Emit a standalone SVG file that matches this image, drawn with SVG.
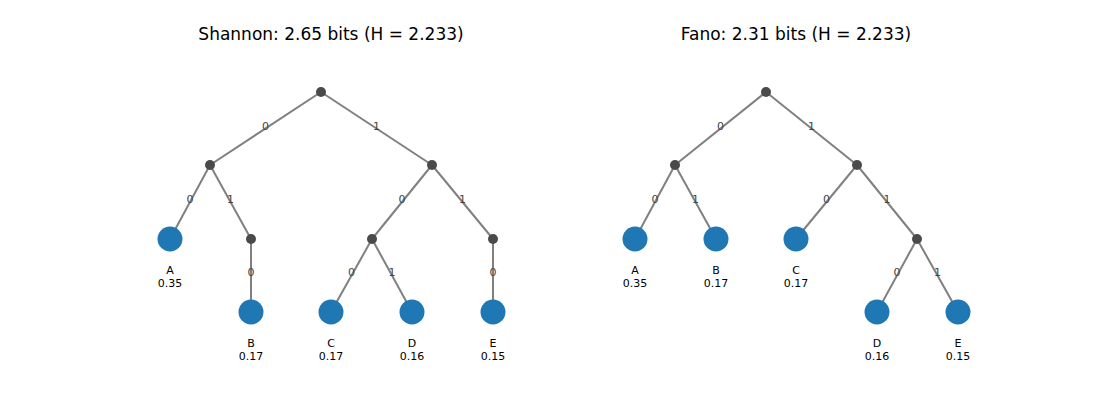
<svg xmlns="http://www.w3.org/2000/svg" width="1100" height="400" viewBox="0 0 1100 400">
<style>
text{font-family:"DejaVu Sans",sans-serif}
.title{font-size:17px;fill:#000;text-anchor:middle}
.lbl{font-size:11px;fill:#000;text-anchor:middle}
.el{font-size:11px;fill:#444;text-anchor:middle;dominant-baseline:central}
.e line{stroke:#808080;stroke-width:2}
.in{fill:#4a4a4a}
.leaf{fill:#1f77b4}
</style>
<rect width="1100" height="400" fill="#fff"/>
<text class="title" x="331" y="40">Shannon: 2.65 bits (H = 2.233)</text>
<text class="title" x="796" y="40">Fano: 2.31 bits (H = 2.233)</text>
<g id="connectors" class="e">
<line x1="321" y1="92" x2="210" y2="165"/>
<line x1="321" y1="92" x2="432" y2="165"/>
<line x1="210" y1="165" x2="170" y2="239"/>
<line x1="210" y1="165" x2="251" y2="239"/>
<line x1="432" y1="165" x2="372" y2="239"/>
<line x1="432" y1="165" x2="493" y2="239"/>
<line x1="251" y1="239" x2="251" y2="312"/>
<line x1="372" y1="239" x2="331" y2="312"/>
<line x1="372" y1="239" x2="412" y2="312"/>
<line x1="493" y1="239" x2="493" y2="312"/>
<line x1="766" y1="92" x2="675" y2="165"/>
<line x1="766" y1="92" x2="857" y2="165"/>
<line x1="675" y1="165" x2="635" y2="239"/>
<line x1="675" y1="165" x2="716" y2="239"/>
<line x1="857" y1="165" x2="796" y2="239"/>
<line x1="857" y1="165" x2="917" y2="239"/>
<line x1="917" y1="239" x2="877" y2="312"/>
<line x1="917" y1="239" x2="958" y2="312"/>
<text class="el" x="265.5" y="126">0</text>
<text class="el" x="376.5" y="126">1</text>
<text class="el" x="190" y="199">0</text>
<text class="el" x="230.5" y="199">1</text>
<text class="el" x="402" y="199">0</text>
<text class="el" x="462.5" y="199">1</text>
<text class="el" x="251" y="272">0</text>
<text class="el" x="351.5" y="272">0</text>
<text class="el" x="392" y="272">1</text>
<text class="el" x="493" y="272">0</text>
<text class="el" x="720.5" y="126">0</text>
<text class="el" x="811.5" y="126">1</text>
<text class="el" x="655" y="199">0</text>
<text class="el" x="695.5" y="199">1</text>
<text class="el" x="826.5" y="199">0</text>
<text class="el" x="887" y="199">1</text>
<text class="el" x="897" y="272">0</text>
<text class="el" x="937.5" y="272">1</text>
</g>
<g id="s-root"><circle class="in" cx="321" cy="92" r="5"/></g>
<g id="s-n0"><circle class="in" cx="210" cy="165" r="5"/></g>
<g id="s-n1"><circle class="in" cx="432" cy="165" r="5"/></g>
<g id="s-n01"><circle class="in" cx="251" cy="239" r="5"/></g>
<g id="s-n10"><circle class="in" cx="372" cy="239" r="5"/></g>
<g id="s-n11"><circle class="in" cx="493" cy="239" r="5"/></g>
<g id="s-A"><circle class="leaf" cx="170" cy="239" r="12.5"/><text class="lbl" x="170" y="274">A</text><text class="lbl" x="170" y="287">0.35</text></g>
<g id="s-B"><circle class="leaf" cx="251" cy="312" r="12.5"/><text class="lbl" x="251" y="347">B</text><text class="lbl" x="251" y="360">0.17</text></g>
<g id="s-C"><circle class="leaf" cx="331" cy="312" r="12.5"/><text class="lbl" x="331" y="347">C</text><text class="lbl" x="331" y="360">0.17</text></g>
<g id="s-D"><circle class="leaf" cx="412" cy="312" r="12.5"/><text class="lbl" x="412" y="347">D</text><text class="lbl" x="412" y="360">0.16</text></g>
<g id="s-E"><circle class="leaf" cx="493" cy="312" r="12.5"/><text class="lbl" x="493" y="347">E</text><text class="lbl" x="493" y="360">0.15</text></g>
<g id="f-root"><circle class="in" cx="766" cy="92" r="5"/></g>
<g id="f-n0"><circle class="in" cx="675" cy="165" r="5"/></g>
<g id="f-n1"><circle class="in" cx="857" cy="165" r="5"/></g>
<g id="f-n11"><circle class="in" cx="917" cy="239" r="5"/></g>
<g id="f-A"><circle class="leaf" cx="635" cy="239" r="12.5"/><text class="lbl" x="635" y="274">A</text><text class="lbl" x="635" y="287">0.35</text></g>
<g id="f-B"><circle class="leaf" cx="716" cy="239" r="12.5"/><text class="lbl" x="716" y="274">B</text><text class="lbl" x="716" y="287">0.17</text></g>
<g id="f-C"><circle class="leaf" cx="796" cy="239" r="12.5"/><text class="lbl" x="796" y="274">C</text><text class="lbl" x="796" y="287">0.17</text></g>
<g id="f-D"><circle class="leaf" cx="877" cy="312" r="12.5"/><text class="lbl" x="877" y="347">D</text><text class="lbl" x="877" y="360">0.16</text></g>
<g id="f-E"><circle class="leaf" cx="958" cy="312" r="12.5"/><text class="lbl" x="958" y="347">E</text><text class="lbl" x="958" y="360">0.15</text></g>
</svg>
